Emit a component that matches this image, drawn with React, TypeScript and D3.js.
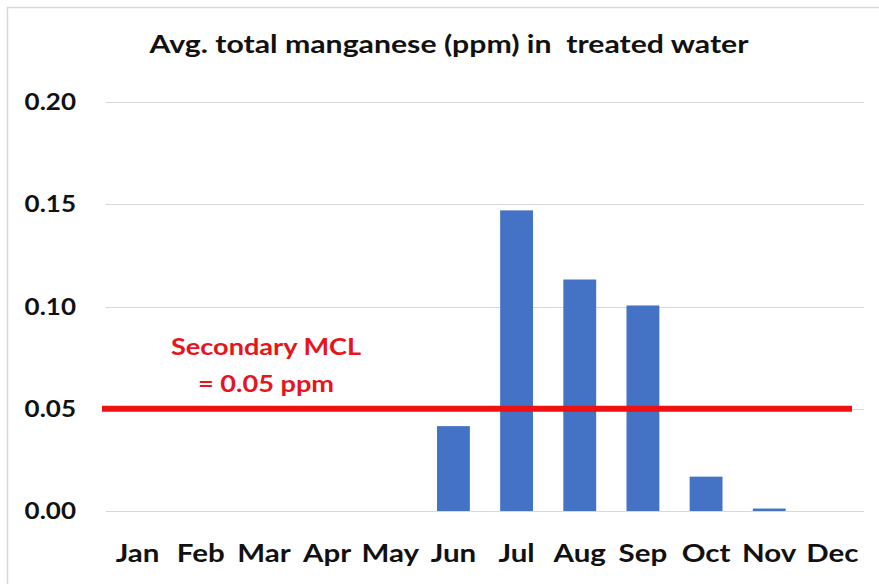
import * as d3 from "d3";
import { useEffect, useRef } from "react";

// data
const months = ["Jan", "Feb", "Mar", "Apr", "May", "Jun", "Jul", "Aug", "Sep", "Oct", "Nov", "Dec"];
const manganese = [0, 0, 0, 0, 0, 0.0415, 0.147, 0.1132, 0.1005, 0.0168, 0.0012, 0];
const yTicks = [0, 0.05, 0.1, 0.15, 0.2];
const mclLimit = 0.05;
const mclLabel = ["Secondary MCL", "= 0.05 ppm"];
const title = "Avg. total manganese (ppm) in  treated water";

function App() {
  const ref = useRef<SVGSVGElement | null>(null);

  useEffect(() => {
    var width = 879,
      height = 584;
    var margin = { top: 102, right: 15, bottom: 73, left: 106 };

    var svg = d3.select(ref.current);
    svg.selectAll("*").remove();
    svg.attr("width", width).attr("height", height);

    var font = "Lato, Carlito, Calibri, sans-serif";
    // the original text is a bit wider than Lato, so stretch it horizontally
    var place = (px: number, py: number, sx: number) =>
      "translate(" + px + "," + py + ") scale(" + sx + ",1)";

    // light frame around the chart
    svg
      .append("rect")
      .attr("x", 7.5)
      .attr("y", 7.5)
      .attr("width", width + 20)
      .attr("height", height + 20)
      .attr("fill", "white")
      .attr("stroke", "#d9d9d9")
      .attr("stroke-width", 1.5);

    var x = d3
      .scaleBand()
      .domain(months)
      .range([margin.left, width - margin.right])
      .paddingInner(0.48)
      .paddingOuter(0.24);

    var y = d3
      .scaleLinear()
      .domain([0, 0.2])
      .range([height - margin.bottom, margin.top]);

    // gridlines
    svg
      .append("g")
      .selectAll("line")
      .data(yTicks)
      .enter()
      .append("line")
      .attr("x1", margin.left)
      .attr("x2", width - margin.right)
      .attr("y1", (d) => Math.round(y(d)) + 0.5)
      .attr("y2", (d) => Math.round(y(d)) + 0.5)
      .attr("stroke", "#d9d9d9")
      .attr("stroke-width", 1);

    // y tick labels
    svg
      .append("g")
      .selectAll("text")
      .data(yTicks)
      .enter()
      .append("text")
      .attr("transform", (d) => place(76, y(d) + 8, 1.13))
      .attr("text-anchor", "end")
      .attr("font-family", font)
      .attr("font-weight", "bold")
      .attr("font-size", 23)
      .attr("fill", "#111")
      .text((d) => d3.format(".2f")(d));

    // bars
    svg
      .append("g")
      .selectAll("rect")
      .data(manganese)
      .enter()
      .append("rect")
      .attr("x", (_, i) => x(months[i]) as number)
      .attr("y", (d) => y(d))
      .attr("width", x.bandwidth())
      .attr("height", (d) => y(0) - y(d))
      .attr("fill", "#4472C4");

    // month labels
    svg
      .append("g")
      .selectAll("text")
      .data(months)
      .enter()
      .append("text")
      .attr("transform", (d) => place((x(d) as number) + x.bandwidth() / 2, 562, 1.18))
      .attr("text-anchor", "middle")
      .attr("font-family", font)
      .attr("font-weight", "bold")
      .attr("font-size", 25)
      .attr("fill", "#111")
      .text((d) => d);

    // secondary MCL line
    svg
      .append("line")
      .attr("x1", margin.left - 4)
      .attr("x2", width - margin.right - 12)
      .attr("y1", y(mclLimit))
      .attr("y2", y(mclLimit))
      .attr("stroke", "#ee1111")
      .attr("stroke-width", 6);

    svg
      .append("g")
      .selectAll("text")
      .data(mclLabel)
      .enter()
      .append("text")
      .attr("transform", (_, i) => place(266, 355 + i * 37, 1.18))
      .attr("text-anchor", "middle")
      .attr("font-family", font)
      .attr("font-weight", "bold")
      .attr("font-size", 23)
      .attr("fill", "#e8141c")
      .text((d) => d);

    // title
    svg
      .append("text")
      .attr("transform", place(449, 53, 1.26))
      .attr("text-anchor", "middle")
      .attr("font-family", font)
      .attr("font-weight", "bold")
      .attr("font-size", 24)
      .attr("fill", "#111")
      .style("white-space", "pre")
      .text(title);
  }, []);

  return <svg ref={ref} style={{ position: "absolute", left: 0, top: 0 }}></svg>;
}

export default App;
